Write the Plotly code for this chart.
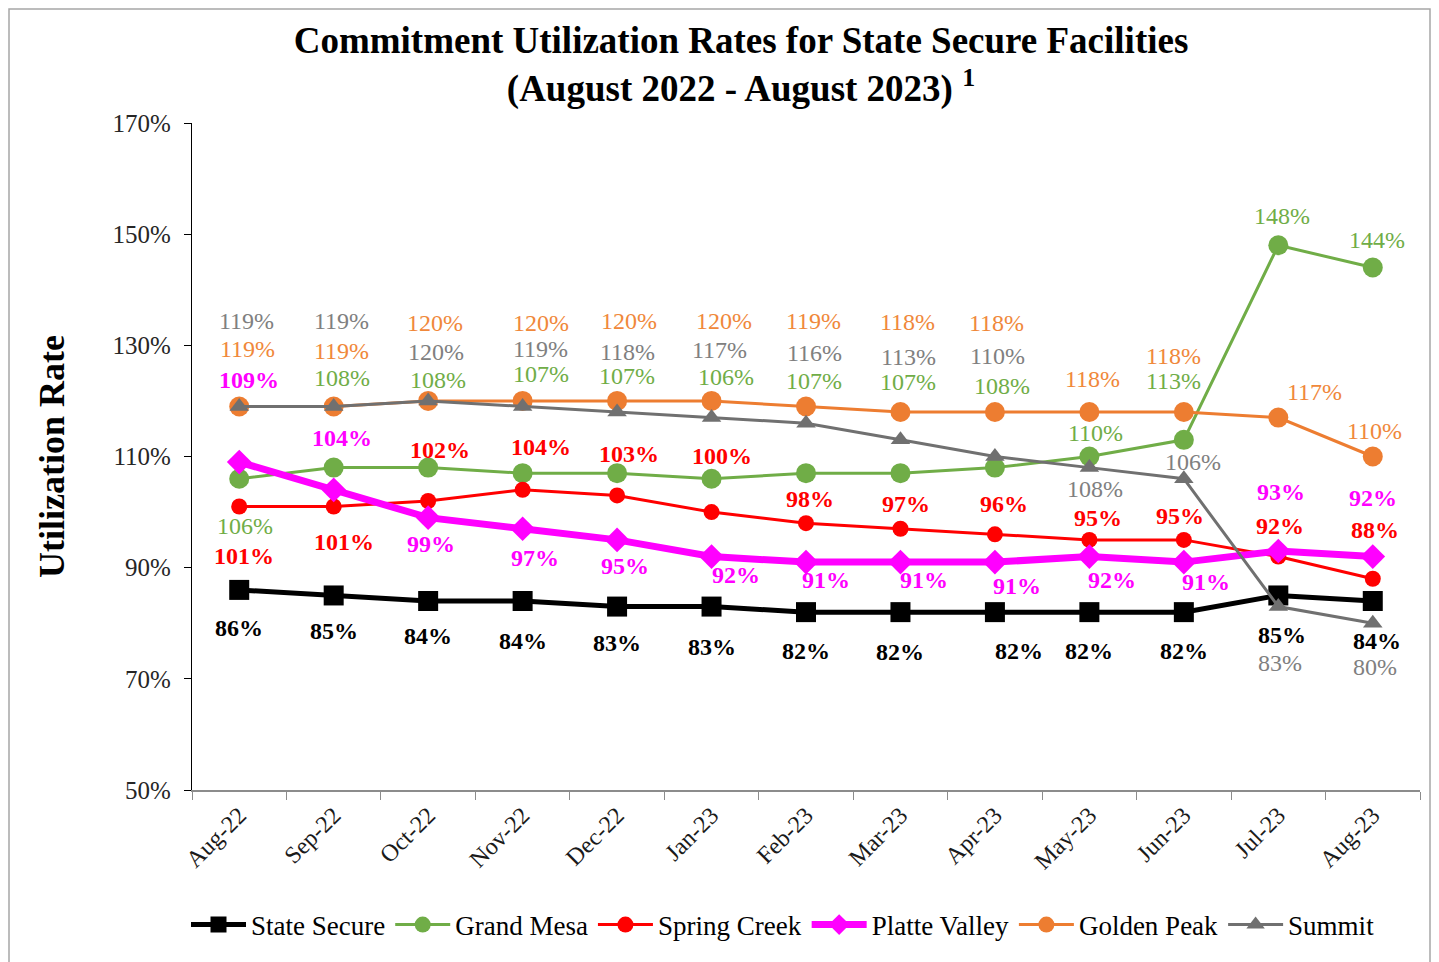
import plotly.graph_objects as go

months = ["Aug-22", "Sep-22", "Oct-22", "Nov-22", "Dec-22", "Jan-23", "Feb-23",
          "Mar-23", "Apr-23", "May-23", "Jun-23", "Jul-23", "Aug-23"]

state_secure = [86, 85, 84, 84, 83, 83, 82, 82, 82, 82, 82, 85, 84]
grand_mesa = [106, 108, 108, 107, 107, 106, 107, 107, 108, 110, 113, 148, 144]
spring_creek = [101, 101, 102, 104, 103, 100, 98, 97, 96, 95, 95, 92, 88]
platte_valley = [109, 104, 99, 97, 95, 92, 91, 91, 91, 92, 91, 93, 92]
golden_peak = [119, 119, 120, 120, 120, 120, 119, 118, 118, 118, 118, 117, 110]
summit = [119, 119, 120, 119, 118, 117, 116, 113, 110, 108, 106, 83, 80]

y_ticks = [50, 70, 90, 110, 130, 150, 170]

FONT = "Liberation Serif"
LABEL_SIZE = 24

series = [
    # name, values, line color, label color, width, symbol, msize, bold, yshifts, xshifts
    ("State Secure", state_secure, "#000000", "#000000", 5, "square", 20, True,
     [-38, -36, -35, -40, -36, -40, -39, -40, -39, -39, -39, -40, -40],
     [0, 0, 0, 0, 0, 0, 0, 0, 24, 0, 0, 4, 4]),
    ("Grand Mesa", grand_mesa, "#70AD47", "#70AD47", 3, "circle", 20, False,
     [-47, 90, 88, 99, 97, 102, 92, 91, 82, 24, 59, 29, 28],
     [6, 8, 10, 18, 10, 14, 8, 8, 7, 6, -10, 4, 4]),
    ("Spring Creek", spring_creek, "#FF0000", "#FF0000", 3, "circle", 16, True,
     [-49, -35, 51, 43, 41, 56, 24, 25, 30, 22, 24, 31, 49],
     [5, 10, 12, 18, 12, 10, 4, 6, 9, 9, -4, 2, 2]),
    ("Platte Valley", platte_valley, "#FF00FF", "#FF00FF", 7, "diamond", 19, True,
     [82, 52, -26, -29, -26, -18, -18, -18, -24, -23, -20, 59, 59],
     [10, 8, 3, 12, 8, 24, 20, 24, 22, 23, 22, 3, 0]),
    ("Golden Peak", golden_peak, "#ED7D31", "#F0883A", 3, "circle", 20, False,
     [57, 55, 78, 78, 80, 80, 85, 90, 89, 33, 56, 26, 26],
     [8, 8, 7, 18, 12, 12, 7, 7, 2, 3, -10, 36, 2]),
    ("Summit", summit, "#707070", "#808080", 3, "triangle-up", 17, False,
     [85, 85, 49, 57, 60, 68, 70, 83, 101, -21, 17, -56, -44],
     [7, 8, 8, 18, 10, 8, 8, 8, 3, 6, 9, 2, 2]),
]

fig = go.Figure()
annotations = []
for name, vals, lc, tc, w, sym, ms, bold, ysh, xsh in series:
    fig.add_trace(go.Scatter(
        x=months, y=vals, name=name, mode="lines+markers",
        line=dict(color=lc, width=w),
        marker=dict(symbol=sym, size=ms, color=lc),
    ))
    for m, v, ys, xs in zip(months, vals, ysh, xsh):
        txt = f"{v}%"
        if bold:
            txt = f"<b>{txt}</b>"
        annotations.append(dict(
            x=m, y=v, text=txt, showarrow=False, xshift=xs, yshift=ys,
            font=dict(family=FONT, size=LABEL_SIZE, color=tc),
        ))

# page offset of 8px: figure is placed at (8, 8) in the window
W, H = 1431, 954
PL, PR, PT, PB = 184, 1412, 115, 782

fig.update_layout(
    width=W, height=H,
    margin=dict(l=PL, r=W - PR, t=PT, b=H - PB),
    paper_bgcolor="white", plot_bgcolor="white",
    title=dict(
        text="<b>Commitment Utilization Rates for State Secure Facilities<br>"
             "(August 2022 - August 2023) <sup>1</sup></b>",
        x=(741 - 8) / W, xanchor="center", xref="container", y=1 - 45 / H, yanchor="middle",
        font=dict(family=FONT, size=37, color="#000000"),
    ),
    font=dict(family=FONT, color="#000000"),
    showlegend=True,
    legend=dict(
        orientation="h", x=(775 - PL) / (PR - PL), xanchor="center",
        y=-(917 - PB) / (PB - PT), yanchor="middle",
        font=dict(family=FONT, size=27, color="#000000"),
        itemwidth=55, tracegroupgap=0,
    ),
    annotations=annotations,
)

fig.update_xaxes(
    type="category", range=[-0.5, 12.5],
    showline=True, linecolor="#8c8c8c", linewidth=1.5,
    ticks="outside", tickson="boundaries", ticklen=8, tickcolor="#8c8c8c",
    tickangle=-45, tickfont=dict(family=FONT, size=24, color="#1a1a1a"),
    showgrid=False, zeroline=False,
)
fig.update_yaxes(
    range=[50, 170], tickvals=y_ticks,
    ticktext=[f"{t}%" for t in y_ticks],
    showline=True, linecolor="#000000", linewidth=1.2,
    ticks="outside", ticklen=7, tickcolor="#000000", ticklabelstandoff=8,
    tickfont=dict(family=FONT, size=25, color="#262626"),
    showgrid=False, zeroline=False,
    title=dict(text="<b>Utilization Rate</b>", font=dict(family=FONT, size=36, color="#000000"),
               standoff=36),
)

# outer chart frame
fig.add_shape(type="rect", xref="paper", yref="paper",
              x0=(1 - PL) / (PR - PL), x1=(1422 - PL) / (PR - PL),
              y0=(PB - 975) / (PB - PT), y1=(PB - 1) / (PB - PT),
              line=dict(color="#a6a6a6", width=1.5), fillcolor="rgba(0,0,0,0)", layer="below")

fig.write_html("out.html")
